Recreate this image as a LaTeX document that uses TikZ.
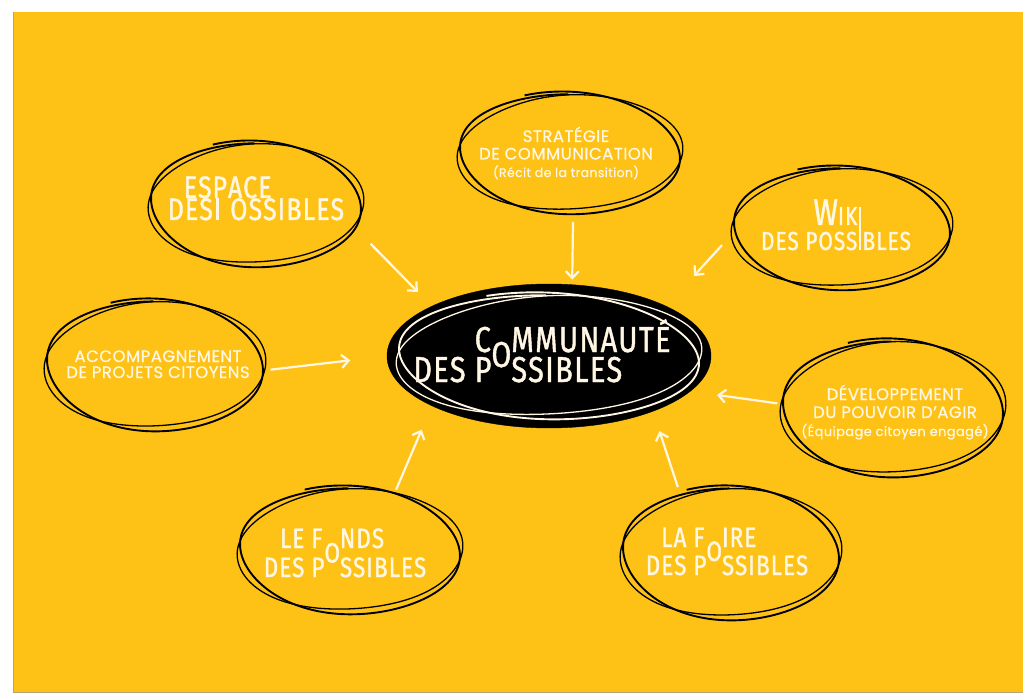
\documentclass[tikz,border=0pt]{standalone}
\usepackage{fontspec}
\usepackage{tikz}
\usetikzlibrary{shapes.geometric, arrows.meta, calc}
\newfontfamily\titlefont[FakeStretch=0.8, LetterSpace=4, FakeBold=1.2]{Fira Sans}
\newfontfamily\handfont[LetterSpace=3, FakeBold=0.6]{Poppins}
\definecolor{bgyellow}{HTML}{FEC216}
\definecolor{cream}{HTML}{FFF7E4}
\definecolor{edgegray}{HTML}{B4A47C}

\newcommand{\LinesL}[1]{\vbox{\lineskiplimit=-\maxdimen\halign{##\hfil\cr#1\crcr}}}
\newcommand{\LinesC}[1]{\vbox{\lineskiplimit=-\maxdimen\halign{\hfil##\hfil\cr#1\crcr}}}
\newcommand{\Inside}[3]{\makebox[0pt]{\hspace*{#1}\hspace*{#1}\raisebox{#2}[0pt][0pt]{#3}}}
\newcommand{\upO}{\smash{\raisebox{0.5\baselineskip}{O}}}
\newcommand{\likeP}[1]{\setbox0\hbox{P}\hbox to\wd0{#1\hss}}
\newcommand{\stemP}{\setbox0\hbox{P}\hbox to\wd0{\kern0.07em\smash{\rule{0.08em}{\baselineskip}}\hss}}
\newcommand{\tallI}{\kern0.06em\smash{\rule{0.08em}{\dimexpr\baselineskip+0.69em\relax}}\kern0.06em}

\begin{document}
\begin{tikzpicture}[x=1pt, y=-1pt,
    bubble/.style={ellipse, inner sep=0pt, outer sep=0pt, text=cream},
    arr/.style={draw=cream, line width=2.2pt, -{Straight Barb[length=7pt, width=13pt]}}]
            \newcommand{\Scribble}[4]{%
                \draw[#4, line width=1.9pt, shift={(#1.center)}, rotate=-2]
                    plot[domain=245:628, samples=100, smooth] ({#2*(1+0.025*sin(2*\x))*cos(\x)}, {#3*(1+0.03*cos(1.5*\x))*sin(\x)});
                \draw[#4, line width=1.3pt, shift={(#1.center)}, rotate=3]
                    plot[domain=200:585, samples=100, smooth] ({(#2+3)*cos(\x)}, {(#3-3)*(1+0.02*sin(3*\x))*sin(\x)});
            }

            \useasboundingbox (0,0) rectangle (1029,698);
            \fill[bgyellow] (13,12) rectangle (1023,692);
            \draw[edgegray, line width=1pt] (13,12) -- (13,692) -- (1023,692);

            % centre
            \node[bubble, fill=black, draw=black, minimum width=324, minimum height=144] (comm) at (549,356)
                {\Inside{-7pt}{-26pt}{\titlefont\fontsize{36}{30}\selectfont
                 \LinesL{\hphantom{DES }\likeP{C}\hphantom{O}MMUNAUTÉ\cr DES P\upO SSIBLES}}};

            % bubbles round it
            \node[bubble, minimum width=210, minimum height=124] (esp) at (256,204)
                {\Inside{0pt}{-16pt}{\titlefont\fontsize{31}{22}\selectfont
                 \LinesL{\hphantom{D}ES\kern1pt P\kern1pt ACE\cr DES\kern1pt\stemP\kern2pt OSSIBLES}}};
            \node[bubble, minimum width=220, minimum height=120] (strat) at (570,153)
                {\Inside{-4pt}{-24pt}{\handfont\fontsize{16.5}{17.5}\selectfont
                 \LinesC{STRATÉGIE\cr DE COMMUNICATION\cr{\fontsize{12.5}{14}\selectfont(Récit de la transition)}}}};
            \node[bubble, minimum width=216, minimum height=122] (wiki) at (842,228)
                {\Inside{-6pt}{-22pt}{\titlefont\fontsize{26}{25}\selectfont
                 \LinesL{\hphantom{DES POSS}\llap{{\fontsize{37}{26}\selectfont W}IK}\cr DES POSS\tallI BLES}}};
            \node[bubble, minimum width=216, minimum height=130] (acc) at (155,365)
                {\Inside{3pt}{-13pt}{\handfont\fontsize{16.5}{16}\selectfont
                 \LinesC{ACCOMPAGNEMENT\cr DE PROJETS CITOYENS}}};
            \node[bubble, minimum width=220, minimum height=136] (dev) at (893,408)
                {\Inside{2pt}{-28pt}{\handfont\fontsize{16.5}{18}\selectfont
                 \LinesC{DÉVELOPPEMENT\cr DU POUVOIR D’AGIR\cr{\fontsize{13}{14}\selectfont(Équipage citoyen engagé)}}}};
            \node[bubble, minimum width=220, minimum height=126] (fonds) at (350,550)
                {\Inside{-5pt}{-27pt}{\titlefont\fontsize{28}{29}\selectfont
                 \LinesL{\hphantom{DES }\llap{LE }\likeP{F}\hphantom{O}NDS\cr DES P\upO SSIBLES}}};
            \node[bubble, minimum width=216, minimum height=132] (foire) at (731,553)
                {\Inside{-4pt}{-22pt}{\titlefont\fontsize{28}{28}\selectfont
                 \LinesL{\hphantom{DES }\llap{LA }\likeP{F}\hphantom{O}IRE\cr DES P\upO SSIBLES}}};

            \Scribble{comm}{150}{62}{cream}% white loops on the black
            \Scribble{esp}{105}{62}{black}
            \Scribble{strat}{110}{60}{black}
            \Scribble{wiki}{108}{61}{black}
            \Scribble{acc}{108}{65}{black}
            \Scribble{dev}{110}{68}{black}
            \Scribble{fonds}{110}{63}{black}
            \Scribble{foire}{108}{66}{black}

            \draw[arr, shorten <=24pt, shorten >=20pt] (esp.-13) -- (comm.157);
            \draw[arr, shorten <=8pt, shorten >=37pt] (acc.-3) -- (comm.180);
            \draw[arr, shorten <=9pt, shorten >=5pt] (strat.-87) -- (comm.72);
            \draw[arr, shorten <=18pt, shorten >=41pt] (wiki.182) -- (comm.23);
            \draw[arr, shorten <=6pt, shorten >=27pt] (dev.178) -- (comm.-14);
            \draw[arr, shorten <=3pt, shorten >=26pt] (fonds.52) -- (comm.203);
            \draw[arr, shorten <=8pt, shorten >=21pt] (foire.131) -- (comm.-28);
        \end{tikzpicture}
\end{document}
